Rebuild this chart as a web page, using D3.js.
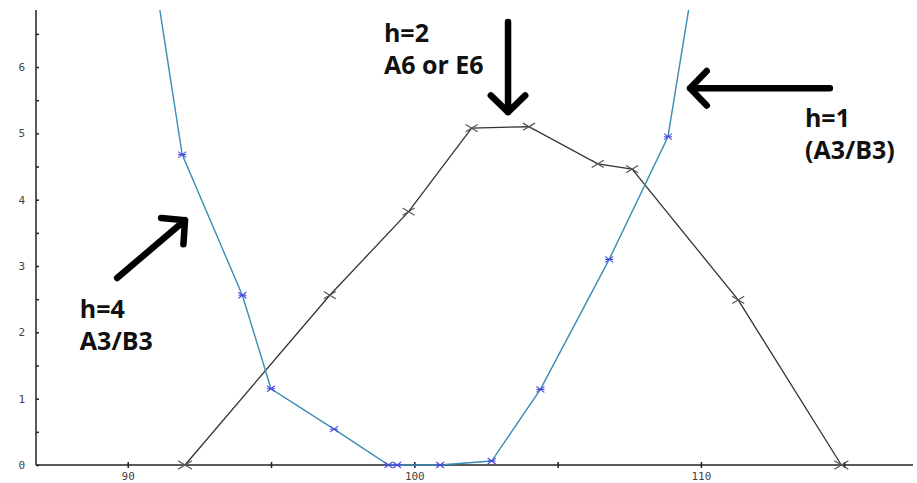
<!DOCTYPE html>
<html lang="en">
<head>
  <meta charset="UTF-8">
  <title>h curves</title>
  <style>
    body { margin: 0; background: #fff; }
    .tick text { font-family: "DejaVu Sans Mono", monospace; font-size: 11px; fill: #444; }
    .note { font-family: "Open Sans", sans-serif; font-weight: bold; font-size: 25px; fill: #111; }
  </style>
</head>
<body>
  <script src="https://d3js.org/d3.v7.min.js"></script>
  <script>

    // black curve (X markers)
    const blackX = [92.0, 97.05, 99.8, 102.0, 104.0, 106.4, 107.6, 111.3, 114.9];
    const blackY = [0, 2.56, 3.82, 5.08, 5.10, 4.54, 4.46, 2.49, 0];

    // blue curve (* markers), first and last points run off the top
    const blueX = [90.0, 91.9, 94.0, 95.0, 97.2, 99.1, 99.4, 100.9, 102.7, 104.4, 106.8, 108.85, 110.0];
    const blueY = [10.0, 4.68, 2.56, 1.15, 0.54, 0, 0, 0, 0.06, 1.14, 3.1, 4.95, 8.0];

    const xTicks = [90, 95, 100, 105, 110, 115];
    const xLabels = [90, 100, 110];
    const yTicks = [0, 0.5, 1, 1.5, 2, 2.5, 3, 3.5, 4, 4.5, 5, 5.5, 6, 6.5];
    const yLabels = [0, 1, 2, 3, 4, 5, 6];

    // notes: text lines and arrows, in data units
    const notes = [
      { x: 88.33, y: 2.22, lines: ["h=4", "A3/B3"] },
      { x: 98.94, y: 6.38, lines: ["h=2", "A6 or E6"] },
      { x: 113.63, y: 5.10, lines: ["h=1", "(A3/B3)"] }
    ];
    const arrows = [
      { x1: 89.63, y1: 2.82, x2: 92.0, y2: 3.69 },
      { x1: 103.27, y1: 6.68, x2: 103.27, y2: 5.32 },
      { x1: 114.5, y1: 5.68, x2: 109.62, y2: 5.68 }
    ];

    const svgWidth = 917, svgHeight = 483;

    const x = d3.scaleLinear().domain([86.8, 117.4]).range([36, 913]);
    const y = d3.scaleLinear().domain([0, 6.86]).range([465, 10]);

    const svg = d3.select('body').append('svg')
      .attr('width', svgWidth)
      .attr('height', svgHeight);

    svg.append('defs').append('clipPath').attr('id', 'plot')
      .append('rect').attr('x', 36).attr('y', 10).attr('width', 877).attr('height', 460);

    // x axis
    const xAxis = svg.append('g')
      .attr('transform', `translate(0,${y(0)})`)
      .call(d3.axisBottom(x).tickValues(xTicks).tickSize(3).tickPadding(4)
        .tickFormat(d => xLabels.includes(d) ? d : ''));
    xAxis.select('.domain').attr('d', `M36,0H913`).attr('stroke', '#222').attr('stroke-width', 1.5);
    xAxis.selectAll('.tick line').attr('y1', -3).attr('stroke', '#222').attr('stroke-width', 1.5);

    // y axis
    const yAxis = svg.append('g')
      .attr('transform', `translate(${x(86.8)},0)`)
      .call(d3.axisLeft(y).tickValues(yTicks).tickSize(3).tickPadding(8)
        .tickFormat(d => yLabels.includes(d) ? d : ''));
    yAxis.select('.domain').attr('d', `M0,10V${y(0)}`).attr('stroke', '#222').attr('stroke-width', 1.5);
    yAxis.selectAll('.tick line').attr('x2', 3).attr('stroke', '#222').attr('stroke-width', 1.5);

    const plot = svg.append('g').attr('clip-path', 'url(#plot)');
    const line = d3.line().x(d => x(d[0])).y(d => y(d[1]));

    const black = blackX.map((v, i) => [v, blackY[i]]);
    const blue = blueX.map((v, i) => [v, blueY[i]]);

    plot.append('path').datum(black)
      .attr('d', line).attr('fill', 'none').attr('stroke', '#333').attr('stroke-width', 1.3);

    plot.append('path').datum(blue)
      .attr('d', line).attr('fill', 'none').attr('stroke', '#3a8bb5').attr('stroke-width', 1.4);

    // X markers on black curve
    plot.selectAll('.bm').data(black).enter().append('path')
      .attr('class', 'bm')
      .attr('transform', d => `translate(${x(d[0])},${y(d[1])})`)
      .attr('d', (d, i) => {
        const s = (i === 0 || i === black.length - 1) ? 7 : 6;
        return `M${-s},${-s * 0.6}L${s},${s * 0.6}M${-s},${s * 0.6}L${s},${-s * 0.6}`;
      })
      .attr('stroke', '#555').attr('stroke-width', 1.2).attr('fill', 'none');

    // star markers on blue curve
    plot.selectAll('.um').data(blue.slice(1, -1)).enter().append('path')
      .attr('class', 'um')
      .attr('transform', d => `translate(${x(d[0])},${y(d[1])})`)
      .attr('d', 'M-4,-3L4,3M-4,3L4,-3M-4,0H4')
      .attr('stroke', '#4a4ae0').attr('stroke-width', 1.1).attr('fill', 'none');

    // arrows
    arrows.forEach(a => {
      const x1 = x(a.x1), y1 = y(a.y1), x2 = x(a.x2), y2 = y(a.y2);
      const ang = Math.atan2(y2 - y1, x2 - x1);
      const h = 24, spread = 0.8;
      const p1 = [x2 - h * Math.cos(ang - spread), y2 - h * Math.sin(ang - spread)];
      const p2 = [x2 - h * Math.cos(ang + spread), y2 - h * Math.sin(ang + spread)];
      svg.append('path')
        .attr('d', `M${x1},${y1}L${x2},${y2}M${p1[0]},${p1[1]}L${x2},${y2}L${p2[0]},${p2[1]}`)
        .attr('stroke', '#000').attr('stroke-width', 6.5)
        .attr('stroke-linecap', 'round').attr('stroke-linejoin', 'round')
        .attr('fill', 'none');
    });

    // notes
    notes.forEach(n => {
      n.lines.forEach((t, i) => {
        svg.append('text').attr('class', 'note')
          .attr('x', x(n.x)).attr('y', y(n.y) + i * 32)
          .text(t);
      });
    });

  </script>
</body>
</html>
